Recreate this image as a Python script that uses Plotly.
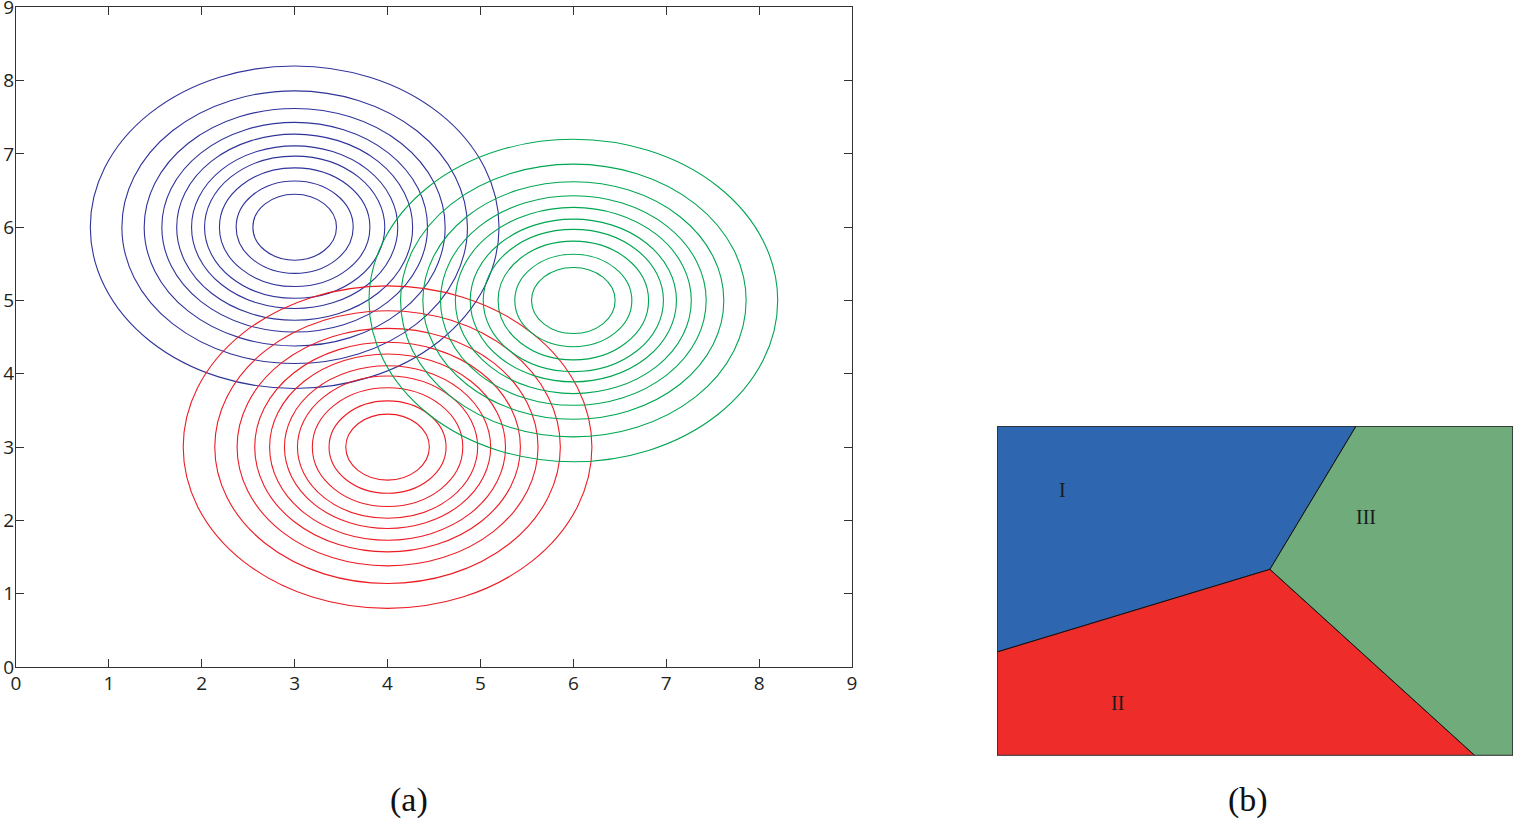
import plotly.graph_objects as go

# ---------------- data ----------------
# panel (a): three groups of concentric contour circles
group_names = ["blue", "red", "green"]
center_x = [3.0, 4.0, 6.0]
center_y = [6.0, 3.0, 5.0]
contour_radii = [2.20, 1.86, 1.62, 1.43, 1.27, 1.11, 0.97, 0.81, 0.63, 0.45]
group_colors = ["#30339a", "#ed1c24", "#00a651"]

x_ticks = [0, 1, 2, 3, 4, 5, 6, 7, 8, 9]
y_ticks = [0, 1, 2, 3, 4, 5, 6, 7, 8, 9]

# panel (b): decision regions (normalised box coordinates)
region_labels = ["I", "II", "III"]
region_I_x = [0.0, 0.696, 0.529, 0.0]
region_I_y = [1.0, 1.0, 0.565, 0.314]
region_II_x = [0.0, 0.529, 0.926, 0.0]
region_II_y = [0.314, 0.565, 0.0, 0.0]
region_III_x = [0.696, 1.0, 1.0, 0.926, 0.529]
region_III_y = [1.0, 1.0, 0.0, 0.0, 0.565]
region_colors = ["#2e66b0", "#ee2d2b", "#6fab7b"]
label_x = [0.126, 0.234, 0.715]
label_y = [0.805, 0.158, 0.723]

captions = ["(a)", "(b)"]

# ---------------- figure ----------------
W, H = 1515, 820
fig = go.Figure()

shapes = []
for cx, cy, col in zip(center_x, center_y, group_colors):
    for r in contour_radii:
        shapes.append(dict(type="circle", xref="x", yref="y",
                           x0=cx - r, x1=cx + r, y0=cy - r, y1=cy + r,
                           line=dict(color=col, width=1.1), layer="above"))

# invisible trace to anchor the first axes
fig.add_trace(go.Scatter(x=center_x, y=center_y, mode="markers",
                         marker=dict(size=1, opacity=0), hoverinfo="skip",
                         showlegend=False, xaxis="x", yaxis="y"))

regions = [(region_I_x, region_I_y), (region_II_x, region_II_y),
           (region_III_x, region_III_y)]
for (rx, ry), col in zip(regions, region_colors):
    fig.add_trace(go.Scatter(x=rx + [rx[0]], y=ry + [ry[0]], mode="lines",
                             fill="toself", fillcolor=col,
                             line=dict(color="#111111", width=1),
                             hoverinfo="skip", showlegend=False,
                             xaxis="x2", yaxis="y2"))

# border of panel (b)
shapes.append(dict(type="rect", xref="x2", yref="y2", x0=0, x1=1, y0=0, y1=1,
                   line=dict(color="#333333", width=1.3), layer="above"))

annotations = []
for lab, lx, ly in zip(region_labels, label_x, label_y):
    annotations.append(dict(x=lx, y=ly, xref="x2", yref="y2", text=lab,
                            showarrow=False, xanchor="center",
                            yanchor="middle",
                            font=dict(family="Liberation Serif", size=20,
                                      color="#1a1a1a")))

cap_x = [409 / W, 1248 / W]
for cap, px in zip(captions, cap_x):
    annotations.append(dict(x=px, y=(H - 800) / H, xref="paper", yref="paper",
                            text=cap, showarrow=False, xanchor="center",
                            yanchor="middle",
                            font=dict(family="Liberation Serif", size=34,
                                      color="#111111")))

axis_common = dict(showgrid=False, zeroline=False, showline=True,
                   linecolor="#333333", linewidth=1, mirror="ticks",
                   ticks="inside", ticklen=8, tickwidth=1,
                   tickcolor="#333333", automargin=False,
                   ticklabeloverflow="allow",
                   tickfont=dict(family="Open Sans", size=19, color="#231f20"))

fig.update_layout(
    width=W, height=H,
    margin=dict(l=0, r=0, t=0, b=0, autoexpand=False),
    paper_bgcolor="white", plot_bgcolor="white",
    showlegend=False,
    xaxis=dict(domain=[16 / W, 852 / W], range=[0, 9], tickvals=x_ticks,
               anchor="y", ticklabelstandoff=-1, **axis_common),
    yaxis=dict(domain=[(H - 667) / H, (H - 7.3) / H], range=[0, 9],
               tickvals=y_ticks, anchor="x", ticklabelstandoff=-3,
               **axis_common),
    xaxis2=dict(domain=[997 / W, 1513 / W], range=[0, 1], visible=False,
                anchor="y2", automargin=False),
    yaxis2=dict(domain=[(H - 755.5) / H, (H - 426) / H], range=[0, 1],
                visible=False, anchor="x2", automargin=False),
    shapes=shapes,
    annotations=annotations,
)

fig.write_html(
    "out.html",
    config={"displayModeBar": False},
    post_script="document.body.style.margin='0';"
                "document.body.style.overflow='hidden';",
)
